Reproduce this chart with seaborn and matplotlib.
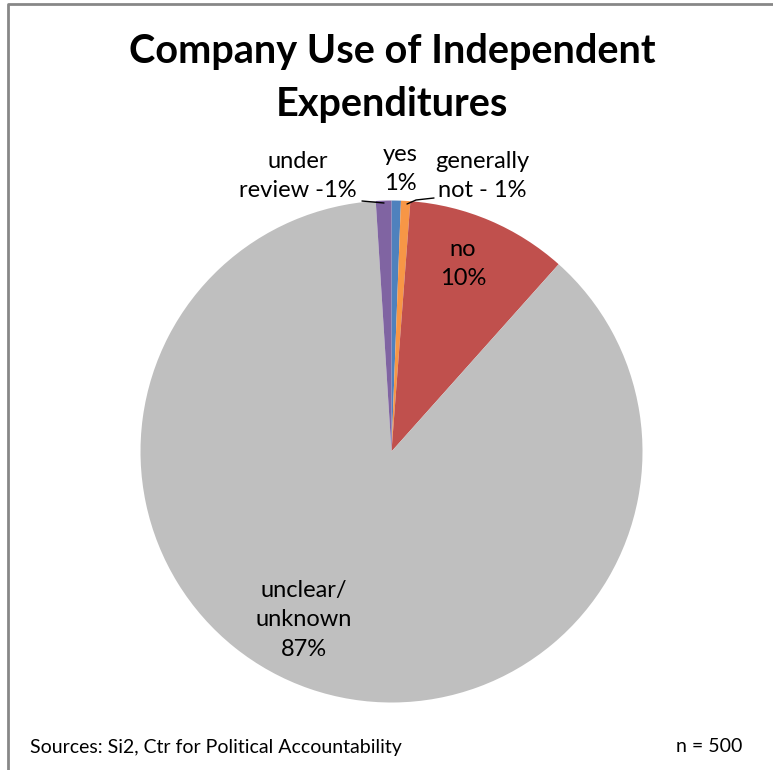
import matplotlib
matplotlib.use("Agg")
import matplotlib.pyplot as plt
from matplotlib.lines import Line2D
import seaborn as sns

# Survey responses (n = 500 companies)
categories = ["yes", "generally not", "no", "unclear/ unknown", "under review"]
counts = [3, 3, 52, 437, 5]
colors = ["#4F81BD", "#F79646", "#C0504D", "#BFBFBF", "#8064A2"]
total = sum(counts)
title = "Company Use of Independent\nExpenditures"
source_note = "Sources: Si2, Ctr for Political Accountability"

sns.set_theme(style="white")
plt.rcParams["font.family"] = ["Lato", "DejaVu Sans"]

W, H = 773, 770
fig = plt.figure(figsize=(W / 100, H / 100), dpi=100)
fig.patch.set_facecolor("white")


def px(x, y):
    return x / W, 1 - y / H


# pie axes: centre (391.5, 451.5), radius 251 px
cx, cy, r = 391.5, 451.5, 251
ax = fig.add_axes([(cx - r) / W, 1 - (cy + r) / H, 2 * r / W, 2 * r / H])
ax.pie(counts, colors=colors, startangle=90, counterclock=False, radius=1,
       wedgeprops=dict(linewidth=0))
ax.set_xlim(-1, 1)
ax.set_ylim(-1, 1)
ax.set_aspect("equal")
ax.axis("off")

pct = {c: round(100 * v / total) for c, v in zip(categories, counts)}

fig.text(*px(392, 78), title, ha="center", va="center", fontsize=28.5,
         fontweight="bold", linespacing=1.55, color="black")

lab = dict(ha="center", va="center", fontsize=17, linespacing=1.52, color="black")
fig.text(*px(298, 176), f"under\nreview -{pct['under review']}%", **lab)
fig.text(*px(400, 169), f"yes\n{pct['yes']}%", **lab)
fig.text(*px(482, 176), f"generally\nnot - {pct['generally not']}%", **lab)
fig.text(*px(463, 264), f"no\n{pct['no']}%", **lab)
fig.text(*px(304, 620), f"unclear/\nunknown\n{pct['unclear/ unknown']}%", **lab)

# leader lines for the thin slices
for xs, ys in [([362, 384], [201, 203]), ([407, 416, 434], [204, 200, 198])]:
    fx = [x / W for x in xs]
    fy = [1 - y / H for y in ys]
    fig.add_artist(Line2D(fx, fy, color="black", linewidth=1.0))

foot = dict(va="center", fontsize=14, color="black")
fig.text(*px(30, 747), source_note, ha="left", **foot)
fig.text(*px(742, 747), f"n = {total}", ha="right", **foot)

# chart frame (top and left edges)
fig.add_artist(Line2D([8 / W, 8 / W, 1], [0, 1 - 4 / H, 1 - 4 / H],
                      color="#878787", linewidth=2))

fig.savefig("out.png", dpi=100)
